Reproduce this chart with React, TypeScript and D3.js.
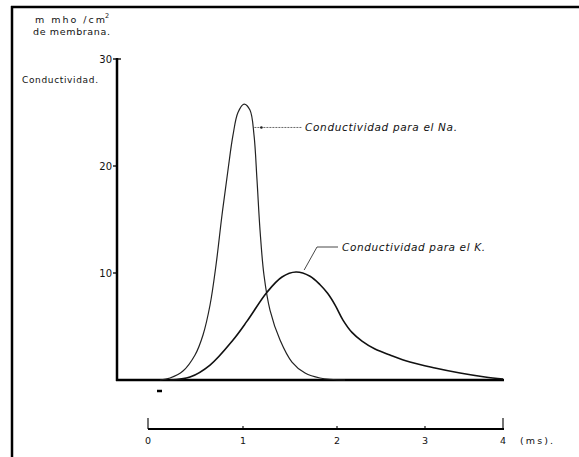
import React from "react";
import * as d3 from "d3";

const yTicks = [10, 20, 30];
const timeTicks = [0, 1, 2, 3, 4];

const naTime = [0.126, 0.232, 0.368, 0.495, 0.579, 0.653, 0.716, 0.779, 0.842, 0.895, 0.947, 1.011, 1.074, 1.117, 1.149, 1.181, 1.223, 1.287, 1.394, 1.521, 1.66, 1.819, 2.091];
const naCond = [0, 0.19, 0.84, 2.34, 4.21, 7.01, 10.75, 15.42, 19.63, 22.9, 25.0, 25.79, 25.23, 22.9, 18.69, 14.02, 9.81, 6.54, 3.74, 1.68, 0.65, 0.19, 0];

const kTime = [0.232, 0.442, 0.653, 0.895, 1.043, 1.255, 1.415, 1.564, 1.713, 1.82, 1.9, 1.98, 2.068, 2.17, 2.284, 2.432, 2.602, 2.829, 3.128, 3.449, 3.769, 4.0];
const kCond = [0, 0.28, 1.4, 3.74, 5.5, 8.2, 9.63, 10.09, 9.7, 8.9, 8.1, 7.0, 5.6, 4.45, 3.64, 2.9, 2.34, 1.68, 1.12, 0.65, 0.28, 0.09];

const FONT = "'DejaVu Sans', 'Liberation Sans', sans-serif";

export default function App() {
  // hand-drawn time scale: uneven spacing between the tick marks
  const x = d3.scaleLinear().domain([0, 1, 2, 3, 4]).range([148, 243, 337, 425, 503]);
  const y = d3.scaleLinear().domain([0, 30]).range([380, 59]);
  const line = d3
    .line<[number, number]>()
    .x((d) => x(d[0]))
    .y((d) => y(d[1]))
    .curve(d3.curveCatmullRom.alpha(0.5));
  const naPath = line(naTime.map((t, i) => [t, naCond[i]]) as [number, number][]) || "";
  const kPath = line(kTime.map((t, i) => [t, kCond[i]]) as [number, number][]) || "";

  const naAnchor: [number, number] = [x(1.1), y(23.6)];
  const kAnchor: [number, number] = [x(1.64), y(10.0)];

  return (
    <svg
      width={579}
      height={457}
      style={{ position: "absolute", left: 0, top: 0, background: "#fff" }}
      fontFamily={FONT}
    >
      {/* frame */}
      <line x1={11} y1={7} x2={579} y2={7} stroke="#000" strokeWidth={2.5} />
      <line x1={12} y1={6} x2={12} y2={457} stroke="#000" strokeWidth={2.5} />

      {/* unit labels */}
      <text x={35} y={23} fontSize={9.5} fill="#111" textLength={70} lengthAdjust="spacing">
        m  mho /cm
      </text>
      <text x={105} y={18} fontSize={6.5} fill="#111">2</text>
      <text x={33} y={35} fontSize={9.5} fill="#111" textLength={77} lengthAdjust="spacing">
        de membrana.
      </text>
      <text x={22} y={83} fontSize={9} fill="#111" textLength={76} lengthAdjust="spacing">
        Conductividad.
      </text>

      {/* y axis */}
      <line x1={117} y1={y(30) - 1} x2={117} y2={y(0) + 1} stroke="#000" strokeWidth={2.5} />
      {yTicks.map((v) => (
        <g key={v}>
          <line x1={113} x2={v === 30 ? 121 : 118} y1={y(v)} y2={y(v)} stroke="#000" strokeWidth={1.3} />
          <text x={112} y={y(v) + 3.5} fontSize={10} textAnchor="end" fill="#111">
            {v}
          </text>
        </g>
      ))}

      {/* baseline */}
      <line x1={116} y1={y(0)} x2={504} y2={y(0)} stroke="#000" strokeWidth={2.5} />
      <line x1={157} y1={391} x2={162} y2={391} stroke="#000" strokeWidth={2.5} />

      {/* curves */}
      <path d={naPath} fill="none" stroke="#222" strokeWidth={1.2} />
      <path d={kPath} fill="none" stroke="#111" strokeWidth={1.6} />

      {/* annotations */}
      <line x1={naAnchor[0] + 2} y1={naAnchor[1]} x2={302} y2={naAnchor[1]} stroke="#444" strokeWidth={0.8} strokeDasharray="2,1" />
      <circle cx={naAnchor[0] + 9} cy={naAnchor[1]} r={1.3} fill="#222" />
      <text x={305} y={naAnchor[1] + 3.5} fontSize={10.5} fill="#111" fontStyle="italic" textLength={152} lengthAdjust="spacing">
        Conductividad para el Na.
      </text>
      <polyline
        points={`${kAnchor[0] + 1},${kAnchor[1] - 3} ${317},${247} ${338},${247}`}
        fill="none"
        stroke="#333"
        strokeWidth={0.9}
      />
      <text x={342} y={250.5} fontSize={10.5} fill="#111" fontStyle="italic" textLength={143} lengthAdjust="spacing">
        Conductividad para el K.
      </text>

      {/* time scale */}
      <line x1={x(0)} y1={429} x2={x(4) + 1} y2={429} stroke="#000" strokeWidth={1.8} />
      {timeTicks.map((t) => (
        <g key={t}>
          <line
            x1={x(t)}
            x2={x(t)}
            y1={t === 0 || t === 4 ? 418 : 426}
            y2={429}
            stroke="#000"
            strokeWidth={1.1}
          />
          <text x={x(t)} y={444} fontSize={9.5} textAnchor="middle" fill="#111">
            {t}
          </text>
        </g>
      ))}
      <text x={520} y={444} fontSize={9.5} fill="#111" textLength={33} lengthAdjust="spacing">
        (ms).
      </text>
    </svg>
  );
}
